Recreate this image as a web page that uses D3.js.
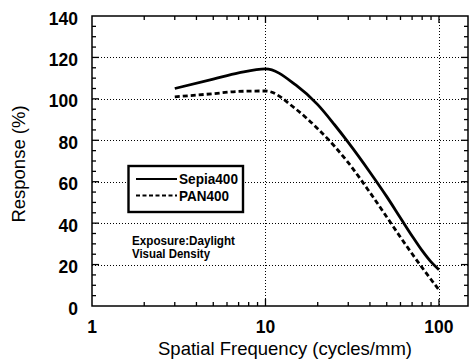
<!DOCTYPE html>
<html>
<head>
<meta charset="utf-8">
<script src="https://cdn.jsdelivr.net/npm/d3@7"></script>
<style>
  body { margin: 0; background: #fff; }
  svg { display: block; font-family: "Liberation Sans", Arial, sans-serif; }
</style>
</head>
<body>
<script>
// values
const freq = [3, 5, 7, 10, 15, 20, 25, 30, 40, 50, 60, 70, 80, 90, 100];
const sepia400 = [105, 109.5, 112.5, 114.5, 106.6, 97.2, 87.5, 79, 64.6, 52.8, 42.5, 33.8, 26.7, 21.3, 17.5];
const pan400 = [101, 102.5, 103.6, 103.8, 95, 85.6, 77.1, 69.2, 54.8, 43, 33.2, 25.2, 18.5, 12.8, 7.8];
const yTicks = [0, 20, 40, 60, 80, 100, 120, 140];
const xTicks = [1, 10, 100];
const seriesNames = ["Sepia400", "PAN400"];
const noteLines = ["Exposure:Daylight", "Visual Density"];

const w = 469, h = 361;
const plotL = 92, plotR = 468, plotT = 16, plotB = 306;

const svg = d3.select("body").append("svg")
  .attr("width", w)
  .attr("height", h);

const x = d3.scaleLog().domain([1, 147]).range([plotL, plotR]);
const y = d3.scaleLinear().domain([0, 140]).range([plotB, plotT]);

// dotted grid
const grid = svg.append("g")
  .attr("stroke", "#000")
  .attr("stroke-width", 1)
  .attr("stroke-dasharray", "1,2");
grid.selectAll(".gy")
  .data(yTicks.filter(d => d > 0 && d < 140))
  .enter().append("line")
  .attr("x1", plotL).attr("x2", plotR)
  .attr("y1", d => Math.round(y(d)) + 0.5).attr("y2", d => Math.round(y(d)) + 0.5);
grid.selectAll(".gx")
  .data([10, 100])
  .enter().append("line")
  .attr("y1", plotT).attr("y2", plotB)
  .attr("x1", d => Math.round(x(d)) + 0.5).attr("x2", d => Math.round(x(d)) + 0.5);

// inside ticks on all four sides
const minorX = [];
for (let dec = 1; dec <= 100; dec *= 10) {
  for (let m = 1; m <= 9; m++) {
    const v = dec * m;
    if (v > 1 && v <= 140) minorX.push(v);
  }
}
const minorY = d3.range(5, 140, 5);

const ticks = svg.append("g").attr("stroke", "#000").attr("stroke-width", 1.3);
ticks.selectAll(".tb")
  .data(minorX)
  .enter().append("line")
  .attr("x1", d => x(d)).attr("x2", d => x(d))
  .attr("y1", plotB).attr("y2", d => plotB - (xTicks.includes(d) ? 7 : 4));
ticks.selectAll(".tt")
  .data(minorX)
  .enter().append("line")
  .attr("x1", d => x(d)).attr("x2", d => x(d))
  .attr("y1", plotT).attr("y2", d => plotT + (xTicks.includes(d) ? 7 : 4));
ticks.selectAll(".tl")
  .data(minorY)
  .enter().append("line")
  .attr("x1", plotL).attr("x2", d => plotL + (d % 20 === 0 ? 7 : 4))
  .attr("y1", d => y(d)).attr("y2", d => y(d));
ticks.selectAll(".tr")
  .data(minorY)
  .enter().append("line")
  .attr("x1", plotR).attr("x2", d => plotR - (d % 20 === 0 ? 7 : 4))
  .attr("y1", d => y(d)).attr("y2", d => y(d));

// frame
svg.append("rect")
  .attr("x", plotL).attr("y", plotT)
  .attr("width", plotR - plotL).attr("height", plotB - plotT)
  .attr("fill", "none")
  .attr("stroke", "#000")
  .attr("stroke-width", 1.5);

// tick labels
svg.selectAll(".yl")
  .data(yTicks)
  .enter().append("text")
  .attr("x", 78)
  .attr("y", d => y(d) + 8.5)
  .attr("text-anchor", "end")
  .attr("font-size", 17.5)
  .attr("font-weight", "bold")
  .text(d => d);
svg.selectAll(".xl")
  .data(xTicks)
  .enter().append("text")
  .attr("x", d => x(d))
  .attr("y", 333)
  .attr("text-anchor", "middle")
  .attr("font-size", 17.5)
  .attr("font-weight", "bold")
  .text(d => d);

// axis titles
svg.append("text")
  .attr("x", 285).attr("y", 355)
  .attr("text-anchor", "middle")
  .attr("font-size", 18.5)
  .text("Spatial Frequency (cycles/mm)");
svg.append("text")
  .attr("transform", "translate(25,164) rotate(-90)")
  .attr("text-anchor", "middle")
  .attr("font-size", 18.5)
  .text("Response (%)");

// curves
const line = d3.line()
  .x(d => x(d[0]))
  .y(d => y(d[1]))
  .curve(d3.curveMonotoneX);

svg.append("path")
  .datum(d3.zip(freq, sepia400))
  .attr("d", line)
  .attr("fill", "none")
  .attr("stroke", "#000")
  .attr("stroke-width", 2.8);
svg.append("path")
  .datum(d3.zip(freq, pan400))
  .attr("d", line)
  .attr("fill", "none")
  .attr("stroke", "#000")
  .attr("stroke-width", 2.8)
  .attr("stroke-dasharray", "5,3");

// legend
const lg = svg.append("g");
lg.append("rect")
  .attr("x", 128.5).attr("y", 166)
  .attr("width", 114.5).attr("height", 46)
  .attr("fill", "#fff")
  .attr("stroke", "#000")
  .attr("stroke-width", 2.4);
seriesNames.forEach((name, i) => {
  const ly = 179 + i * 16.5;
  lg.append("line")
    .attr("x1", 136).attr("x2", 177)
    .attr("y1", ly).attr("y2", ly)
    .attr("stroke", "#000")
    .attr("stroke-width", 2)
    .attr("stroke-dasharray", i === 0 ? null : "4,2.5");
  lg.append("text")
    .attr("x", 179).attr("y", ly + 5.2)
    .attr("font-size", 14.5)
    .attr("font-weight", "bold")
    .attr("textLength", i === 0 ? 59 : 50)
    .attr("lengthAdjust", "spacingAndGlyphs")
    .text(name);
});

// annotation
noteLines.forEach((t, i) => {
  svg.append("text")
    .attr("x", 132).attr("y", 245 + i * 13)
    .attr("font-size", 12.5)
    .attr("font-weight", "bold")
    .attr("textLength", i === 0 ? 103 : 78)
    .attr("lengthAdjust", "spacingAndGlyphs")
    .text(t);
});
</script>
</body>
</html>
